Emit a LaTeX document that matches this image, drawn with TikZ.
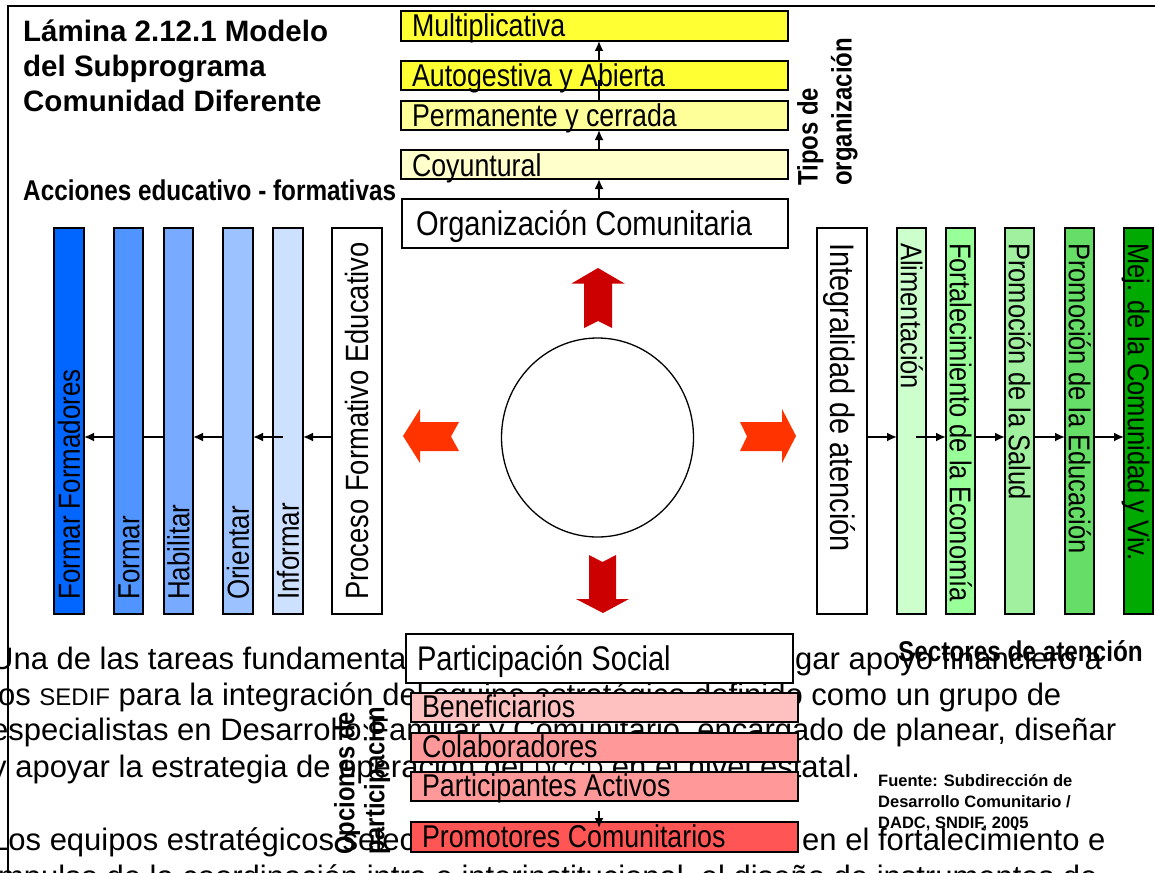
\documentclass[tikz,border=0pt]{standalone}
\usepackage{fontspec}
\setmainfont{Liberation Sans}
\newfontfamily\narrowfont[FakeStretch=0.85]{Liberation Sans}
\usetikzlibrary{arrows.meta,shapes.geometric,calc}
\definecolor{yelA}{HTML}{FFFF33}
\definecolor{yelB}{HTML}{FFFF99}
\definecolor{yelC}{HTML}{FFFFCC}
\definecolor{bluA}{HTML}{0066FF}
\definecolor{bluB}{HTML}{4F94FF}
\definecolor{bluC}{HTML}{78AAFF}
\definecolor{bluD}{HTML}{9CC3FF}
\definecolor{bluE}{HTML}{CDE0FF}
\definecolor{grnA}{HTML}{CCFFCC}
\definecolor{grnB}{HTML}{99FF99}
\definecolor{grnC}{HTML}{A0F0A0}
\definecolor{grnD}{HTML}{66DD66}
\definecolor{grnE}{HTML}{00AA00}
\definecolor{redA}{HTML}{FFC0C0}
\definecolor{redB}{HTML}{FF9999}
\definecolor{redC}{HTML}{FF5555}
\definecolor{darkRed}{HTML}{CC0000}
\definecolor{orRed}{HTML}{FF3300}
\newcommand\myLbl{\narrowfont\fontsize{31.5}{38}\selectfont}
\newcommand\myBig{\narrowfont\fontsize{34.2}{40}\selectfont}
\newcommand\myBar{\narrowfont\fontsize{30.5}{36}\selectfont}
\begin{document}
\begin{tikzpicture}[x=1pt,y=-1pt,
  body/.style={font=\fontsize{31}{36}\selectfont, inner sep=0pt, anchor=base west},
  box/.style={draw=black, line width=1.5pt, inner xsep=11pt, inner ysep=0pt, outer sep=0pt,
              align=left, anchor=north west, font=\myLbl, text height=22pt, text depth=0pt,
              execute at begin node={\spaceskip=0.236em\relax}},
  bigbox/.style={box, font=\myBig, text height=23pt},
  redbox/.style={box, text height=19pt, minimum height=29pt, text width=365pt},
  bar/.style={draw=black, line width=1.5pt, inner sep=0pt, outer sep=0pt, minimum height=386pt, anchor=north west},
  vlab/.style={inner sep=0pt, anchor=west, font=\myBar, text height=21.5pt, text depth=0pt},
  arr/.style={-{Latex[length=10pt,width=9pt]}, line width=1.8pt},
  plain/.style={line width=1.8pt},
  frame/.style={line width=2pt, draw=black},
  blockup/.style={fill=darkRed},
  blockside/.style={fill=orRed}]
\useasboundingbox (0,0) rectangle (1155,872);
\fill[white] (0,0) rectangle (1155,872);

% background page text
\node[body] (t1a) at (-9,669) {Una de las tareas fundamenta};
\node[body] (t1b) at (795,669) {gar apoyo financiero a};
\node[body] (t2) at (-9,705) {los {\fontsize{24}{24}\selectfont SEDIF} para la integración del equipo estratégico definido como un grupo de};
\node[body] (t3) at (-9,740) {especialistas en Desarrollo Familiar y Comunitario, encargado de planear, diseñar};
\node[body] (t4) at (-9,777) {y apoyar la estrategia de operación del {\fontsize{24}{24}\selectfont DCCD} en el nivel estatal.};
\node[body] (t6a) at (-9,850) {Los equipos estratégicos selecc};
\node[body] (t6b) at (802,850) {en el fortalecimiento e};
\node[body] (t7) at (-9,887) {impulso de la coordinación intra e interinstitucional, el diseño de instrumentos de};

% frame
\draw[frame] (8,880) -- (8,6) -- (1160,6);

% title
\node[inner sep=0pt, anchor=north west, align=left, font=\fontsize{29.5}{35}\selectfont\bfseries] (title) at (23,19.7)
  {Lámina 2.12.1 Modelo\\del Subprograma\\Comunidad Diferente};
\node[inner sep=0pt, anchor=base west, font=\narrowfont\fontsize{28.6}{34}\selectfont\bfseries] (acc) at (23,200)
  {Acciones educativo - formativas};

% top column
\node[box, fill=yelA, minimum height=30pt, text width=365pt] (mult) at (401,11) {Multiplicativa};
\node[box, fill=yelA, minimum height=29pt, text width=365pt] (auto) at (401,61) {Autogestiva y Abierta};
\node[box, fill=yelB, minimum height=29pt, text width=365pt] (perm) at (401,101) {Permanente y cerrada};
\node[box, fill=yelC, minimum height=29pt, text width=365pt, text height=23pt] (coy) at (401,150) {Coyuntural};
\node[bigbox, fill=white, minimum height=49pt, inner xsep=14pt, text width=358pt] (org) at (402,199) {Organización Comunitaria};
\coordinate (ax) at (599,0);
\coordinate (autostub) at (599,80);
\draw[arr] (ax |- org.north) -- (ax |- coy.south);
\draw[arr] (ax |- coy.north) -- (ax |- perm.south);
\draw[plain] (ax |- perm.north) -- (autostub);
\draw[arr] (ax |- auto.north) -- (ax |- mult.south);
\node[rotate=90, anchor=north west, align=left, inner sep=0pt, font=\narrowfont\fontsize{28.2}{34}\selectfont\bfseries] (tipos) at (797,186) {Tipos de\\organización};

% left bars
\node[bar, fill=bluA, minimum width=30pt] (ff) at (54,228) {};
\node[bar, fill=bluB, minimum width=29pt] (fo) at (114,228) {};
\node[bar, fill=bluC, minimum width=29pt] (ha) at (164,228) {};
\node[bar, fill=bluD, minimum width=30pt] (ori) at (223,228) {};
\node[bar, fill=bluE, minimum width=30pt] (inf) at (273,228) {};
\node[bar, fill=white, minimum width=50pt] (pfe) at (332,228) {};
\coordinate (lb) at (0,600);
\node[vlab, rotate=90] (ffl) at (ff.center |- lb) {Formar Formadores};
\node[vlab, rotate=90] (fol) at (fo.center |- lb) {Formar};
\node[vlab, rotate=90] (hal) at (ha.center |- lb) {Habilitar};
\node[vlab, rotate=90] (oril) at (ori.center |- lb) {Orientar};
\node[vlab, rotate=90] (infl) at (inf.center |- lb) {Informar};
\node[vlab, rotate=90, font=\narrowfont\fontsize{32.2}{38}\selectfont, text height=23pt] (pfel) at (pfe.center |- lb) {Proceso Formativo Educativo};

% right bars
\node[bar, fill=white, minimum width=50pt] (ia) at (817,228) {};
\node[bar, fill=grnA, minimum width=29pt] (ali) at (897,228) {};
\node[bar, fill=grnB, minimum width=29pt] (fe) at (946,228) {};
\node[bar, fill=grnC, minimum width=29pt] (ps) at (1005,228) {};
\node[bar, fill=grnD, minimum width=29pt] (pe) at (1065,228) {};
\node[bar, fill=grnE, minimum width=29pt] (mej) at (1124,228) {};
\coordinate (rt) at (0,243);
\node[vlab, rotate=-90, font=\narrowfont\fontsize{34}{40}\selectfont, text height=24pt] (ial) at (ia.center |- rt) {Integralidad de atención};
\node[vlab, rotate=-90, font=\narrowfont\fontsize{30}{36}\selectfont] (alil) at (ali.center |- rt) {Alimentación};
\node[vlab, rotate=-90, font=\narrowfont\fontsize{30}{36}\selectfont] (fel) at (fe.center |- rt) {Fortalecimiento de la Economía};
\node[vlab, rotate=-90, font=\narrowfont\fontsize{30}{36}\selectfont] (psl) at (ps.center |- rt) {Promoción de la Salud};
\node[vlab, rotate=-90, font=\narrowfont\fontsize{30}{36}\selectfont] (pel) at (pe.center |- rt) {Promoción de la Educación};
\node[vlab, rotate=-90, font=\narrowfont\fontsize{30}{36}\selectfont] (mejl) at (mej.center |- rt) {Mej. de la Comunidad y Viv.};
\node[inner sep=0pt, anchor=base west, font=\narrowfont\fontsize{28.6}{34}\selectfont\bfseries] (sect) at (898,661) {Sectores de atención};

% bar connectors
\coordinate (ay) at (0,437);
\coordinate (infm) at ([xshift=-5pt]inf.center);
\coordinate (alim) at ([xshift=4pt]ali.center);
\draw[arr] (pfe.west |- ay) -- (inf.east |- ay);
\draw[arr] (infm |- ay) -- (ori.east |- ay);
\draw[arr] (ori.west |- ay) -- (ha.east |- ay);
\draw[plain] (ha.west |- ay) -- (fo.east |- ay);
\draw[arr] (fo.west |- ay) -- (ff.east |- ay);
\draw[arr] (ia.east |- ay) -- (ali.west |- ay);
\draw[arr] (alim |- ay) -- (fe.west |- ay);
\draw[arr] (fe.east |- ay) -- (ps.west |- ay);
\draw[arr] (ps.east |- ay) -- (pe.west |- ay);
\draw[arr] (pe.east |- ay) -- (mej.west |- ay);

% centre
\node[ellipse, draw=black, line width=1.3pt, minimum width=192pt, minimum height=199pt, inner sep=0pt] (core) at (597.5,437.5) {};
\fill[blockup] (598,268) -- (624.5,283.5) -- (612,283.5) -- (612,328) -- (598,321) -- (584,328) -- (584,283.5) -- (571.5,283.5) -- cycle;
\fill[blockup] (603,613) -- (629,599) -- (616,599) -- (616,555) -- (602.5,562) -- (589,555) -- (589,599) -- (576,599) -- cycle;
\fill[blockside] (403,436) -- (420,409) -- (420,422) -- (459,422) -- (451,436.5) -- (459,451) -- (420,451) -- (420,463) -- cycle;
\fill[blockside] (796,436) -- (782,409) -- (782,422) -- (740,422) -- (747,436.5) -- (740,451) -- (782,451) -- (782,463) -- cycle;

% bottom column
\node[bigbox, fill=white, minimum height=49pt, text width=365pt] (part) at (406,634) {Participación Social};
\node[redbox, fill=redA] (benef) at (411,693) {Beneficiarios};
\node[redbox, fill=redB] (colab) at (411,733) {Colaboradores};
\node[redbox, fill=redB] (activ) at (411,772) {Participantes Activos};
\node[redbox, fill=redC, minimum height=30pt, text height=20pt] (prom) at (411,822) {Promotores Comunitarios};
\draw[arr, shorten <=10pt, shorten >=-6pt] (ax |- activ.south) -- (ax |- prom.north);
\node[rotate=90, anchor=north west, align=left, inner sep=0pt, font=\narrowfont\fontsize{28}{30}\selectfont\bfseries] (opc) at (334,855) {Opciones de\\participación};

% source
\node[inner sep=0pt, anchor=north west, align=left, font=\fontsize{16.5}{21}\selectfont\bfseries] (src) at (878,774)
  {Fuente: Subdirección de\\Desarrollo Comunitario /\\DADC, SNDIF, 2005};
\end{tikzpicture}
\end{document}
